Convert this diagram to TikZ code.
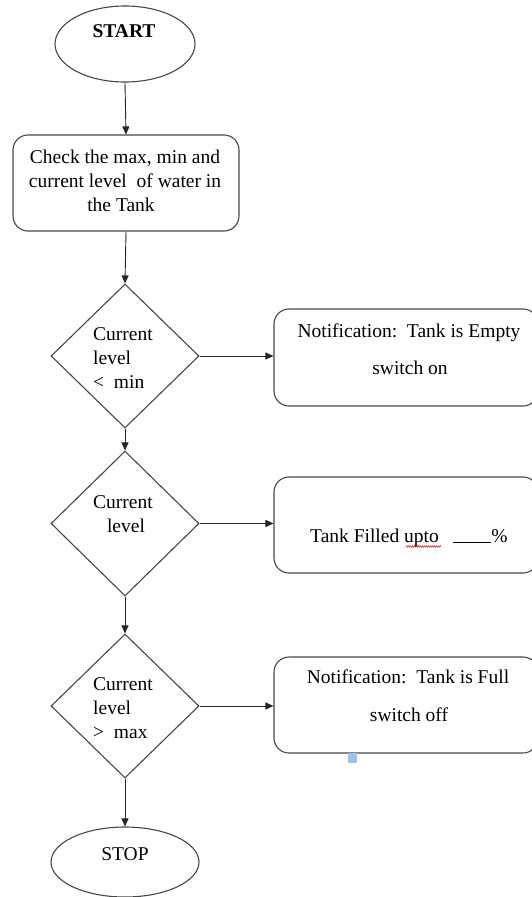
\documentclass[tikz,border=0pt]{standalone}
\usepackage{fontspec}
\setmainfont{Liberation Serif}
\usetikzlibrary{shapes.geometric,arrows.meta,decorations.pathmorphing}
\definecolor{markblue}{RGB}{157,195,230}
\begin{document}
\begin{tikzpicture}[x=1pt,y=-1pt,
  shapeline/.style={draw=black!72,line width=1.1pt},
  term/.style={shapeline,ellipse,inner sep=0pt},
  procbox/.style={shapeline,rectangle,rounded corners=15pt,inner sep=0pt},
  dia/.style={shapeline,diamond,inner sep=0pt,minimum width=148pt,minimum height=144pt},
  txt/.style={anchor=base,inner sep=0pt,font=\fontsize{19.5}{24}\selectfont},
  conn/.style={draw=black!85,line width=0.9pt,-{Triangle[length=8pt,width=7pt]}}
]
\useasboundingbox (0,0) rectangle (532,897);
\clip (0,0) rectangle (532,897);
% shapes
\node[term,minimum width=140pt,minimum height=76pt] (start) at (125,44) {};
\node[procbox,minimum width=226pt,minimum height=96pt] (check) at (126,183) {};
\node[dia] (d1) at (125,356) {};
\node[dia,minimum height=145pt] (d2) at (125,523.5) {};
\node[dia] (d3) at (125,706) {};
\node[procbox,minimum width=264pt,minimum height=97pt] (b1) at (406,357.5) {};
\node[procbox,minimum width=264pt,minimum height=96pt] (b2) at (406,525) {};
\node[procbox,minimum width=264pt,minimum height=96pt] (b3) at (406,705) {};
\node[term,minimum width=148pt,minimum height=70pt] (stop) at (125,862) {};
% texts
\node[txt,font=\fontsize{19.5}{24}\selectfont\bfseries] (t0) at (124,37) {START};
\node[txt] (t1a) at (125,163) {Check the max, min and};
\node[txt] (t1b) at (125,187) {current level\ \ of water in};
\node[txt] (t1c) at (121,211) {the Tank};
\node[txt,anchor=base west] (t2a) at (93,340) {Current};
\node[txt,anchor=base west] (t2b) at (93,364) {level};
\node[txt,anchor=base west] (t2c) at (93,388) {<\ \ min};
\node[txt] (t3a) at (123,508) {Current};
\node[txt] (t3b) at (126,532) {level};
\node[txt,anchor=base west] (t4a) at (93,690) {Current};
\node[txt,anchor=base west] (t4b) at (93,714) {level};
\node[txt,anchor=base west] (t4c) at (93,738) {>\ \ max};
\node[txt] (t5a) at (409,337) {Notification:\ \ Tank is Empty};
\node[txt] (t5b) at (410,374) {switch on};
\node[txt,anchor=base west] (t6) at (310,542) {Tank Filled upto\ \ \ \rule[-1pt]{38pt}{0.9pt}\%};
\node[txt] (t7a) at (408,683) {Notification:\ \ Tank is Full};
\node[txt] (t7b) at (409,721) {switch off};
\node[txt] (t8) at (125,860) {STOP};
% spell-check squiggle under "upto"
\coordinate (sqa) at (406,546.5);
\coordinate (sqb) at (441,546.5);
\draw[red!80!black,line width=0.4pt,decorate,decoration={zigzag,amplitude=0.8pt,segment length=2pt}] (sqa) -- (sqb);
% small blue mark
\fill[markblue] (348,753) rectangle (357,763);
% connectors
\draw[conn] (start.south) -- (check.north);
\draw[conn] (check.south) -- (d1.north);
\draw[conn] (d1.south) -- (d2.north);
\draw[conn] (d2.south) -- (d3.north);
\draw[conn] (d3.south) -- (stop.north);
\draw[conn] (d1.east) -- (d1.east -| b1.west);
\draw[conn] (d2.east) -- (d2.east -| b2.west);
\draw[conn] (d3.east) -- (d3.east -| b3.west);
\end{tikzpicture}
\end{document}
